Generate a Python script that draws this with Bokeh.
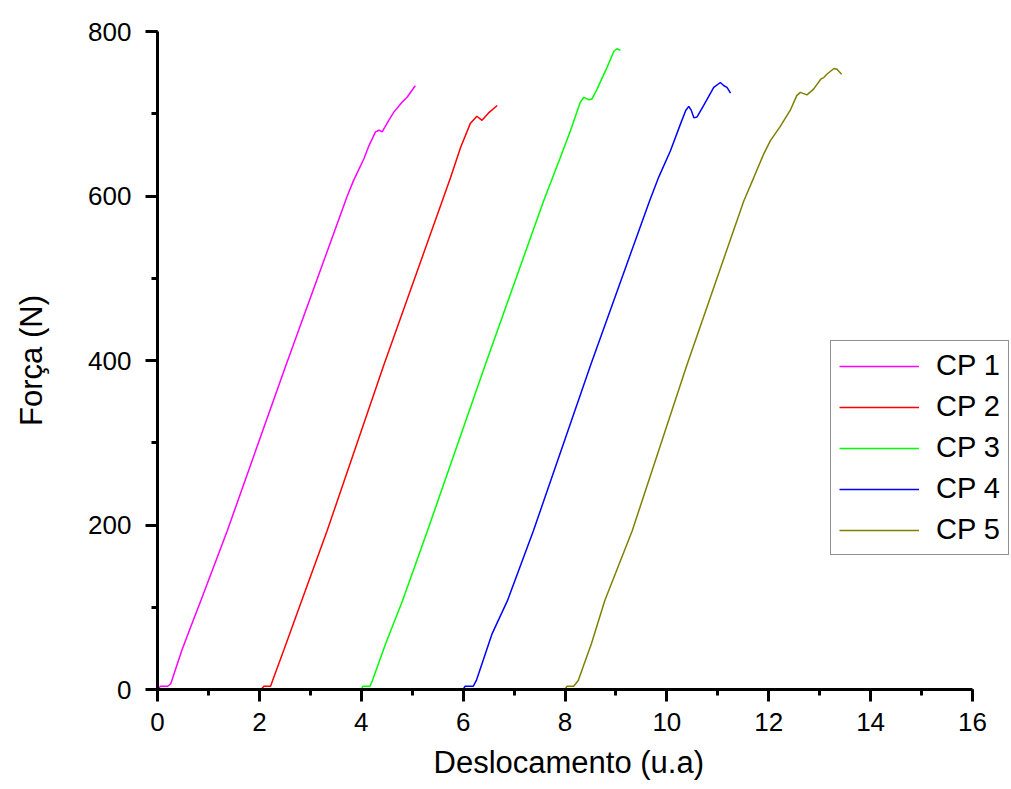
from bokeh.plotting import figure
from bokeh.models import Range1d, Legend, LegendItem, FixedTicker, Title
from bokeh.embed import file_html
from bokeh.resources import INLINE

# ---- data ----
cp1_x = [0, 0.06, 0.2, 0.26, 0.48, 0.70, 0.85, 1.37, 2.52, 3.72, 3.85, 4.05, 4.15, 4.28, 4.35, 4.41, 4.54, 4.64, 4.80, 4.90, 5.06]
cp1_y = [0, 4, 4, 7, 48, 84, 108, 193, 394, 599, 619, 645, 661, 678, 680, 678, 692, 702, 714, 720, 734]

cp2_x = [2.03, 2.09, 2.22, 2.26, 2.48, 2.83, 3.33, 4.44, 5.59, 5.75, 5.95, 6.14, 6.27, 6.37, 6.50, 6.67]
cp2_y = [0, 4, 4, 11, 48, 108, 193, 394, 594, 622, 659, 688, 697, 692, 701, 710]

cp3_x = [4.0, 4.03, 4.17, 4.22, 4.48, 4.81, 5.30, 6.43, 7.58, 7.91, 8.11, 8.30, 8.37, 8.47, 8.53, 8.63, 8.83, 8.96, 9.02, 9.09]
cp3_y = [0, 4, 4, 11, 56, 108, 193, 394, 594, 647, 680, 714, 720, 717, 718, 730, 757, 776, 779, 777]

cp4_x = [6.0, 6.04, 6.20, 6.26, 6.57, 6.87, 7.38, 8.50, 9.66, 9.84, 10.07, 10.27, 10.37, 10.43, 10.48, 10.53, 10.59, 10.72, 10.92, 11.05, 11.12, 11.18, 11.25]
cp4_y = [0, 4, 4, 11, 68, 108, 193, 394, 594, 623, 655, 688, 704, 709, 704, 695, 696, 710, 732, 738, 734, 732, 725]

cp5_x = [8.0, 8.04, 8.17, 8.26, 8.52, 8.78, 9.32, 10.39, 11.51, 11.71, 11.90, 12.03, 12.22, 12.42, 12.55, 12.62, 12.75, 12.88, 13.02, 13.08, 13.14, 13.28, 13.34, 13.43]
cp5_y = [0, 4, 4, 11, 56, 108, 193, 394, 594, 623, 651, 667, 684, 704, 722, 726, 723, 730, 742, 744, 748, 755, 754, 748]

labels = ["CP 1", "CP 2", "CP 3", "CP 4", "CP 5"]
colors = ["#FF00FF", "#FF0000", "#00FF00", "#0000FF", "#808000"]

x_ticks = [0, 2, 4, 6, 8, 10, 12, 14, 16]
y_ticks = [0, 200, 400, 600, 800]
x_label = "Deslocamento (u.a)"
y_label = "Força (N)"

FONT = "Liberation Sans"

# layout: axis 0..16 spans 815 px; the frame runs on to the page edge so the legend can overflow
LEFT, TOP, AXIS_PX, FRAME_W, FRAME_H = 157, 31, 815, 854, 658
x_end = 16 * FRAME_W / AXIS_PX

p = figure(width=LEFT + FRAME_W, height=789, output_backend="svg", toolbar_location=None,
           x_range=Range1d(0, x_end), y_range=Range1d(0, 800),
           min_border_left=LEFT, min_border_right=0, min_border_top=TOP,
           min_border_bottom=789 - TOP - FRAME_H)
p.outline_line_color = None
p.grid.visible = False
p.background_fill_color = "white"
p.border_fill_color = "white"

series = [(cp1_x, cp1_y), (cp2_x, cp2_y), (cp3_x, cp3_y), (cp4_x, cp4_y), (cp5_x, cp5_y)]
items = []
for (xs, ys), lab, col in zip(series, labels, colors):
    r = p.line(xs, ys, line_color=col, line_width=1.5)
    items.append(LegendItem(label=lab, renderers=[r]))

for ax in (p.xaxis[0], p.yaxis[0]):
    ax.axis_line_width = 3
    ax.axis_line_color = "black"
    ax.major_tick_line_width = 3
    ax.minor_tick_line_width = 3
    ax.major_tick_in = 0
    ax.major_tick_out = 12
    ax.minor_tick_in = 0
    ax.minor_tick_out = 6
    ax.major_label_text_font = FONT
    ax.major_label_text_font_size = "26px"
    ax.major_label_text_color = "black"
    ax.axis_label_text_font = FONT
    ax.axis_label_text_font_size = "31px"
    ax.axis_label_text_font_style = "normal"
    ax.axis_label_text_color = "black"

p.xaxis[0].bounds = (0, 16)
p.xaxis[0].ticker = FixedTicker(ticks=x_ticks, minor_ticks=list(range(0, 17)))
p.yaxis[0].ticker = FixedTicker(ticks=y_ticks, minor_ticks=list(range(0, 801, 100)))
p.yaxis[0].axis_label = y_label
p.xaxis[0].major_label_standoff = 11
p.yaxis[0].major_label_standoff = 14
p.yaxis[0].axis_label_standoff = 36

# x-axis title placed under the 0..16 span (not under the widened frame)
xt = Title(text=x_label, align="left", offset=276,
           text_font=FONT, text_font_size="31px", text_font_style="normal",
           text_color="black", standoff=19)
p.add_layout(xt, "below")

legend = Legend(items=items, location=(830 - LEFT, 134),
                label_text_font=FONT, label_text_font_size="29px", label_text_color="black",
                glyph_width=80, glyph_height=30, label_height=30, label_standoff=17,
                spacing=8, padding=8, margin=0,
                border_line_color="#222222", border_line_width=1.5,
                background_fill_color="white", background_fill_alpha=1.0)
p.add_layout(legend, "center")

open("out.html", "w").write(file_html(p, INLINE))
